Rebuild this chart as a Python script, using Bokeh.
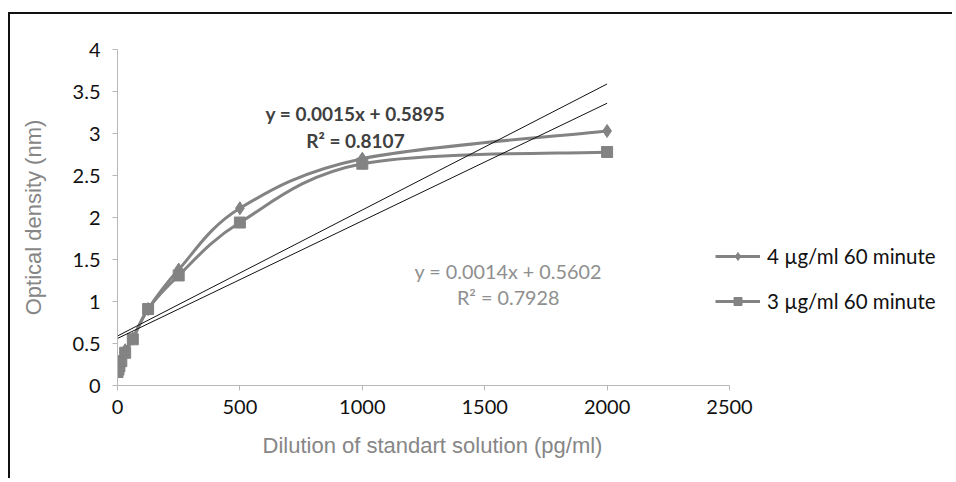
from bokeh.plotting import figure
from bokeh.models import Range1d, Legend, LegendItem, ColumnDataSource
from bokeh.core.properties import value
from bokeh.embed import file_html
from bokeh.resources import INLINE
import numpy as np

# ---- data ----
dilution = [0, 3.9, 7.8, 15.6, 31.25, 62.5, 125, 250, 500, 1000, 2000]
od_4ug = [0.17, 0.20, 0.25, 0.31, 0.42, 0.56, 0.91, 1.38, 2.11, 2.70, 3.03]
od_3ug = [0.16, 0.19, 0.23, 0.29, 0.39, 0.55, 0.91, 1.31, 1.94, 2.64, 2.78]
series_names = ["4 \u00b5g/ml 60 minute", "3 \u00b5g/ml 60 minute"]
trend_4ug = (0.0015, 0.5895, 0.8107)
trend_3ug = (0.0014, 0.5602, 0.7928)
x_ticks = [0, 500, 1000, 1500, 2000, 2500]
y_ticks = [0, 0.5, 1, 1.5, 2, 2.5, 3, 3.5, 4]
x_axis_max = 2500
y_axis_max = 4

SERIES_COLOR = "#838383"
FONT = "Lato"
TITLE_FONT = "Liberation Sans"

W, H = 944, 466
LEFT, TOP, BOTTOM = 107, 35, 95
AXIS_PX = 612                      # pixel length of the 0..2500 x axis
frame_w = W - LEFT
x_end = x_axis_max * frame_w / AXIS_PX

p = figure(width=W, height=H, output_backend="svg", toolbar_location=None,
           x_range=Range1d(0, x_end), y_range=Range1d(0, y_axis_max),
           min_border_left=LEFT, min_border_right=0, min_border_top=TOP,
           min_border_bottom=BOTTOM, title_location="below")
p.margin = (12, 0, 0, 8)
p.styles = {"border-top": "2px solid #111111", "border-left": "2px solid #111111"}
p.outline_line_color = None
p.xgrid.visible = False
p.ygrid.visible = False

for ax in (p.xaxis[0], p.yaxis[0]):
    ax.axis_line_color = "#b8b8b8"
    ax.major_tick_line_color = "#b8b8b8"
    ax.minor_tick_line_color = None
    ax.major_tick_in = 0
    ax.major_tick_out = 5
    ax.major_label_text_font = FONT
    ax.major_label_text_font_size = "20px"
    ax.major_label_text_color = "#111111"
    ax.axis_label_text_font = TITLE_FONT
    ax.axis_label_text_font_size = "22px"
    ax.axis_label_text_font_style = "normal"
    ax.axis_label_text_color = "#868686"

p.xaxis.ticker = x_ticks
p.xaxis.bounds = (0, x_axis_max)
p.yaxis.ticker = y_ticks
p.xaxis.major_label_standoff = 9
p.yaxis.major_label_standoff = 12
p.yaxis.axis_label = "Optical density (nm)"
p.yaxis.axis_label_standoff = 24

# x axis title (placed as a below-title so it stays centred under the 0..2500 axis)
p.title.text = "Dilution of standart solution (pg/ml)"
p.title.align = "left"
p.title.offset = 145
p.title.standoff = 28
p.title.text_font = TITLE_FONT
p.title.text_font_size = "22px"
p.title.text_font_style = "normal"
p.title.text_color = "#868686"


def bezier_segments(xs, ys):
    xs = np.asarray(xs, float)
    ys = np.asarray(ys, float)
    n = len(xs)
    px = np.concatenate([[xs[0]], xs, [xs[-1]]])
    py = np.concatenate([[ys[0]], ys, [ys[-1]]])
    d = dict(x0=[], y0=[], x1=[], y1=[], cx0=[], cy0=[], cx1=[], cy1=[])
    for i in range(n - 1):
        j = i + 1
        d["x0"].append(px[j]); d["y0"].append(py[j])
        d["x1"].append(px[j + 1]); d["y1"].append(py[j + 1])
        d["cx0"].append(px[j] + (px[j + 1] - px[j - 1]) / 6)
        d["cy0"].append(py[j] + (py[j + 1] - py[j - 1]) / 6)
        d["cx1"].append(px[j + 1] - (px[j + 2] - px[j]) / 6)
        d["cy1"].append(py[j + 1] - (py[j + 2] - py[j]) / 6)
    return ColumnDataSource(d)


items = []
for ys, marker, msize, name in [(od_4ug, "diamond", 13, series_names[0]),
                                (od_3ug, "square", 11, series_names[1])]:
    br = p.bezier(x0="x0", y0="y0", x1="x1", y1="y1", cx0="cx0", cy0="cy0",
                  cx1="cx1", cy1="cy1", source=bezier_segments(dilution, ys),
                  line_color=SERIES_COLOR, line_width=3)
    sr = p.scatter(dilution, ys, marker=marker, size=msize,
                   fill_color=SERIES_COLOR, line_color=SERIES_COLOR)
    items.append(LegendItem(label=name, renderers=[br, sr]))

# linear trendlines
xt = [min(dilution), max(dilution)]
for slope, icpt, _ in (trend_4ug, trend_3ug):
    p.line(xt, [slope * x + icpt for x in xt], line_color="#111111", line_width=1)

# trendline equations
p.text(x=[972, 972], y=[3.24, 2.92],
       text=[f"y = {trend_4ug[0]:.4f}x + {trend_4ug[1]:.4f}", f"R\u00b2 = {trend_4ug[2]:.4f}"],
       text_font=value(FONT), text_font_size="19px", text_font_style="bold",
       text_color="#404040", text_align="center", text_baseline="middle")
p.text(x=[1596, 1596], y=[1.36, 1.05],
       text=[f"y = {trend_3ug[0]:.4f}x + {trend_3ug[1]:.4f}", f"R\u00b2 = {trend_3ug[2]:.4f}"],
       text_font=value(FONT), text_font_size="19.8px",
       text_color="#8f8f8f", text_align="center", text_baseline="middle")

legend = Legend(items=items, location=(598, 72), orientation="vertical",
                glyph_width=45, glyph_height=20, spacing=21, label_standoff=7,
                padding=0, margin=0, border_line_color=None, background_fill_alpha=0,
                label_text_font=FONT, label_text_font_size="20.5px",
                label_text_color="#111111")
p.add_layout(legend, "center")

open("out.html", "w").write(file_html(p, INLINE))
